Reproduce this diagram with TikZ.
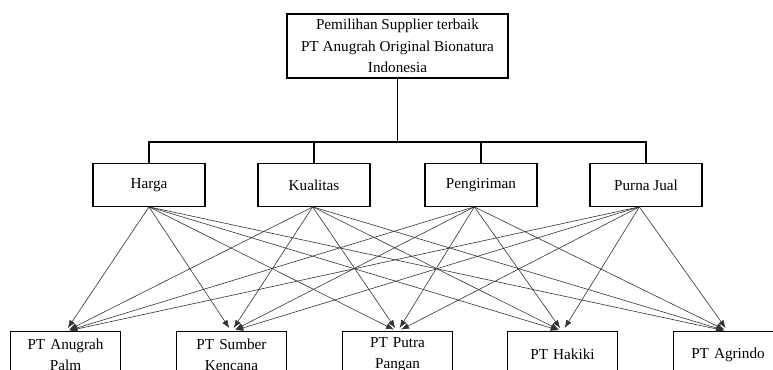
\documentclass[tikz,border=0pt]{standalone}
\usepackage{fontspec}
\setmainfont{Liberation Serif}
\usetikzlibrary{arrows.meta}
\tikzset{
  kotak/.style={draw, line width=0.8pt, align=center, inner sep=2pt},
  goal/.style={kotak, minimum width=165.75pt, minimum height=48pt},
  kriteria/.style={kotak, minimum width=84pt, minimum height=32pt},
  alternatif/.style={kotak, line width=0.6pt, minimum width=82.5pt, minimum height=34pt, text width=78pt},
  panah/.style={-{Latex[length=6pt,width=4.5pt]}, line width=0.45pt, black!80, shorten >=3pt}
}
\begin{document}
\begin{tikzpicture}[x=0.75pt,y=-0.75pt,font=\fontsize{11.4}{16}\selectfont]
\useasboundingbox (0,0) rectangle (773,369);
\clip (0,0) rectangle (773,369);
% tujuan
\node[goal] (tujuan) at (397.5,46) {Pemilihan Supplier terbaik\\PT Anugrah Original Bionatura\\Indonesia};
% kriteria
\node[kriteria] (k1) at (149,185) {Harga};
\node[kriteria] (k2) at (314,185) {Kualitas};
\node[kriteria] (k3) at (481,185) {Pengiriman};
\node[kriteria] (k4) at (646,185) {Purna Jual};
% alternatif
\node[alternatif] (a1) at (65.5,354.5) {PT Anugrah\\Palm};
\node[alternatif] (a2) at (231.5,354.5) {PT Sumber\\Kencana};
\node[alternatif] (a3) at (397.5,354.5) {PT Putra\\Pangan};
\node[alternatif] (a4) at (562.5,354.5) {PT Hakiki};
\node[alternatif] (a5) at (728,354.5) {PT Agrindo};
\coordinate (cabang) at (397.5,142);
\draw[line width=0.8pt] (tujuan.south) -- (cabang);
\foreach \k in {1,...,4}
  \draw[line width=0.8pt] (k\k.north) |- (cabang);
\foreach \k/\dx in {1/0,2/-1,3/-5,4/-5}
  \foreach \a in {1,...,5}
    \draw[panah] ([xshift=\dx pt]k\k.south) -- (a\a.north);
\end{tikzpicture}
\end{document}
